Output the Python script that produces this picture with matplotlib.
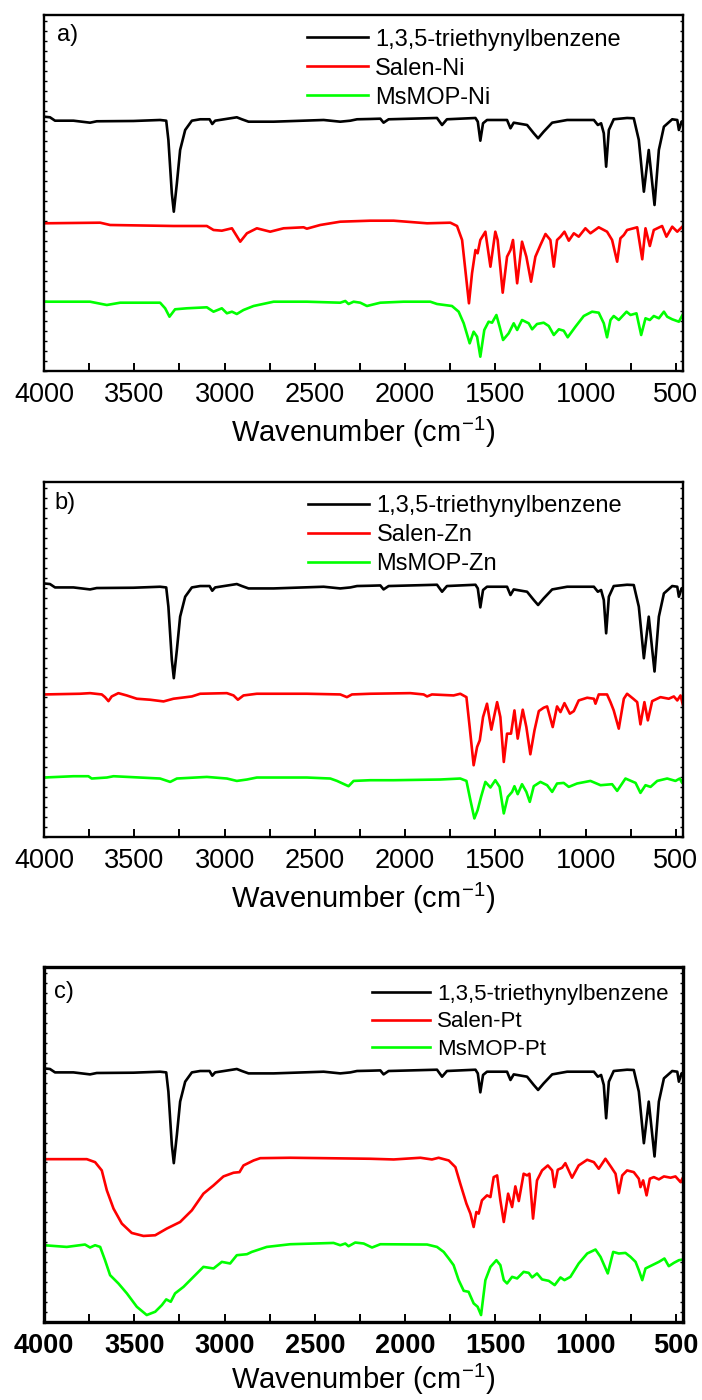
import matplotlib
matplotlib.use("Agg")
import matplotlib.pyplot as plt
import numpy as np
from matplotlib.ticker import MultipleLocator

plt.rcParams['font.family'] = ['Liberation Sans', 'DejaVu Sans']
plt.rcParams['mathtext.fontset'] = 'custom'
plt.rcParams['mathtext.rm'] = 'Liberation Sans'

# IR spectra, (wavenumber cm-1, transmittance a.u.)
teb = np.array([
    (4000, 254.3), (3967, 253.7), (3939, 250.3), (3837, 250.3), (3745, 248.3), (3708, 249.7),
    (3505, 250), (3357, 251), (3323, 250.3), (3311, 231), (3292, 177.7), (3281, 159.3),
    (3264, 187.7), (3246, 221), (3218, 241), (3181, 250.3), (3135, 251.7), (3083, 251.7),
    (3068, 247), (3052, 250.3), (2932, 253.7), (2904, 251.7), (2867, 249.3), (2728, 249.3),
    (2451, 251), (2359, 249.3), (2303, 250.3), (2266, 251.7), (2193, 252), (2137, 252.3),
    (2119, 248.3), (2091, 251.7), (1823, 253), (1795, 246), (1768, 251.7), (1610, 253),
    (1597, 249.3), (1583, 230.3), (1568, 247.7), (1546, 251), (1435, 251), (1416, 242.7),
    (1398, 248.3), (1324, 246), (1287, 237.7), (1263, 232.7), (1232, 239.3), (1185, 248.3),
    (1102, 251), (954, 251), (932, 246), (914, 247.7), (899, 237.7), (886, 204.3), (871, 241),
    (844, 251.7), (770, 253), (733, 252.7), (705, 231), (677, 179.3), (650, 221), (618, 166),
    (594, 221), (566, 244.3), (520, 251.7), (492, 251), (483, 241), (468, 249.3), (460, 250),
])

salen_ni = np.array([
    (4000, 147.7), (3689, 148.3), (3634, 146), (3283, 145), (3098, 145), (3061, 141),
    (3015, 140.3), (2959, 142.7), (2913, 129.3), (2876, 137.7), (2821, 142.7), (2747, 139.3),
    (2673, 142.7), (2562, 143.7), (2544, 142.3), (2470, 146), (2359, 149.3), (2193, 150.3),
    (2063, 150.3), (1878, 147.7), (1749, 148.3), (1712, 145), (1684, 131), (1660, 91),
    (1646, 67.7), (1629, 97.7), (1610, 121), (1598, 117.7), (1583, 131), (1555, 139.3),
    (1527, 104.3), (1500, 139.3), (1487, 131), (1459, 78.3), (1435, 114.3), (1416, 121),
    (1402, 131), (1379, 87.7), (1352, 129.3), (1328, 114.3), (1302, 89.3), (1278, 114.3),
    (1250, 126), (1222, 137), (1195, 131), (1176, 104.3), (1158, 131), (1139, 134.3),
    (1117, 139.3), (1093, 130.3), (1065, 137.7), (1038, 134.3), (1001, 142.7), (973, 137.7),
    (927, 143.7), (881, 139.3), (853, 131), (825, 109.3), (807, 132.7), (788, 136), (770, 141),
    (714, 143.7), (686, 111.7), (668, 142.7), (644, 125), (622, 141), (576, 145), (552, 134.3),
    (520, 144.3), (492, 139.3), (460, 145),
])

msmop_ni = np.array([
    (4000, 69.3), (3745, 69.3), (3652, 66), (3578, 68.3), (3357, 68.3), (3329, 62.7),
    (3305, 54.3), (3274, 61.7), (3209, 62.7), (3098, 63.7), (3061, 59.3), (3015, 62.7),
    (2987, 57.7), (2959, 59.3), (2932, 57), (2895, 61), (2839, 65), (2728, 69.3), (2544, 69.3),
    (2359, 68.3), (2331, 70), (2313, 67), (2285, 69.3), (2248, 68.3), (2211, 65), (2137, 68.3),
    (2008, 69.3), (1860, 69.3), (1823, 67), (1740, 65), (1703, 59.3), (1675, 47.7),
    (1642, 27.7), (1620, 39.3), (1601, 34.3), (1583, 14.3), (1561, 41), (1537, 49.3),
    (1518, 48.3), (1494, 56), (1476, 44.3), (1457, 31), (1426, 37.7), (1398, 47.7), (1379, 41),
    (1352, 51), (1315, 47.7), (1296, 41.7), (1269, 47), (1232, 48.3), (1204, 45), (1176, 36),
    (1148, 41.7), (1121, 40.3), (1099, 33.7), (1056, 44.3), (1010, 55), (964, 59.3),
    (927, 58.3), (899, 47.7), (881, 33.7), (862, 51), (844, 55), (816, 51), (773, 59.3),
    (751, 56), (718, 57.7), (692, 36), (668, 52.7), (644, 51), (622, 55), (594, 52.7),
    (566, 59.3), (548, 54.3), (520, 51.7), (483, 49.3), (460, 57),
])

salen_zn = np.array([
    (4000, 143), (3800, 143.7), (3745, 144.3), (3680, 143), (3662, 140.3), (3643, 136.3),
    (3625, 141), (3588, 144.3), (3542, 142), (3486, 138.7), (3412, 137.7), (3338, 136),
    (3283, 138.7), (3181, 141), (3135, 143.7), (2987, 144.3), (2950, 142), (2926, 137.7),
    (2895, 142), (2821, 143.7), (2544, 143.7), (2359, 143), (2322, 140.3), (2294, 143),
    (2193, 143.7), (1971, 144.3), (1897, 143), (1878, 141), (1851, 143), (1731, 142),
    (1694, 143.7), (1660, 140.3), (1642, 110.3), (1620, 72), (1601, 90.3), (1586, 97),
    (1568, 120.3), (1546, 133.7), (1522, 107.7), (1490, 135.3), (1472, 120.3), (1453, 75.3),
    (1435, 103.7), (1413, 103.7), (1394, 127), (1376, 98.7), (1348, 127.7), (1328, 110.3),
    (1306, 83), (1283, 107), (1259, 126.3), (1232, 129.7), (1213, 131), (1182, 110.3),
    (1158, 131), (1139, 125.3), (1117, 134.3), (1087, 123.7), (1065, 126.3), (1038, 137),
    (991, 139.7), (954, 138.7), (945, 133.7), (927, 143), (881, 143), (862, 135.3), (844, 127),
    (816, 108.7), (788, 138.7), (770, 143.7), (736, 138.7), (714, 135.3), (696, 113),
    (674, 135.3), (655, 117), (631, 136.3), (585, 140.3), (539, 138.7), (511, 141), (492, 137),
    (474, 142), (460, 132),
])

msmop_zn = np.array([
    (4000, 59.7), (3837, 61), (3754, 61), (3736, 58.7), (3652, 59.7), (3615, 61), (3357, 58.7),
    (3301, 55.3), (3264, 58.7), (3098, 60.3), (2987, 58.7), (2932, 56.3), (2876, 57.7),
    (2821, 59.7), (2544, 59.7), (2414, 58.7), (2377, 56.3), (2313, 51), (2285, 56.3),
    (2193, 57), (2063, 57), (1805, 57.7), (1694, 58.7), (1660, 56.3), (1638, 37), (1616, 18.7),
    (1598, 27), (1579, 40.3), (1555, 55.3), (1527, 49.7), (1500, 57), (1476, 50.3),
    (1453, 23.7), (1431, 40.3), (1407, 45.3), (1394, 51), (1376, 43), (1352, 53), (1328, 45.3),
    (1309, 35.3), (1287, 51), (1250, 55.3), (1213, 52), (1185, 45.3), (1158, 53.7),
    (1121, 54.3), (1093, 50.3), (1047, 53.7), (973, 56.3), (917, 52), (853, 53), (825, 46.3),
    (779, 58.7), (723, 54.3), (696, 44.3), (668, 52), (640, 50.3), (603, 56.3), (548, 58.7),
    (502, 56.3), (478, 58.7), (465, 54.3), (460, 57),
])

salen_pt = np.array([
    (4000, 163.3), (3763, 163.3), (3717, 160.3), (3680, 152), (3652, 132), (3615, 113.7),
    (3569, 98.7), (3514, 89.3), (3449, 86.3), (3384, 87), (3320, 93.7), (3246, 100.3),
    (3181, 112), (3117, 128.7), (3061, 137), (3006, 146), (2950, 149.7), (2917, 150.3),
    (2895, 157), (2839, 162), (2802, 164.3), (2636, 164.7), (2451, 164.3), (2193, 163.7),
    (2063, 163), (1915, 164.7), (1851, 163), (1814, 164.7), (1758, 162), (1721, 155.3),
    (1694, 138.7), (1660, 118.7), (1638, 108.7), (1620, 95.3), (1605, 110.3), (1592, 108.7),
    (1574, 122), (1546, 127), (1527, 125.3), (1509, 145.3), (1490, 147), (1472, 122),
    (1453, 100.3), (1429, 128.7), (1407, 115.3), (1389, 136), (1370, 121.3), (1343, 148.7),
    (1324, 147), (1311, 148.7), (1291, 103.7), (1269, 142), (1241, 152), (1209, 157),
    (1185, 152), (1172, 135.3), (1154, 152.7), (1130, 154.7), (1112, 159.3), (1075, 144.7),
    (1038, 157), (991, 162.7), (954, 160.3), (927, 153.7), (890, 163.7), (858, 155.3),
    (834, 148.7), (816, 129.3), (797, 147), (770, 152), (733, 150.3), (705, 143.7),
    (696, 135.3), (681, 142), (662, 127), (644, 143.7), (622, 145.3), (594, 143), (566, 146),
    (529, 144.7), (502, 146), (474, 140.3), (460, 145),
])

msmop_pt = np.array([
    (4000, 77), (3874, 75.3), (3773, 77.7), (3745, 74.7), (3717, 77), (3689, 75.3), (3662, 62),
    (3634, 47), (3588, 38.7), (3541, 28.7), (3486, 15.3), (3431, 7), (3384, 10.3), (3347, 17),
    (3323, 22.7), (3298, 20.3), (3274, 28.7), (3227, 35.3), (3172, 45.3), (3117, 55.3),
    (3061, 53.7), (3015, 60.3), (2969, 58.7), (2932, 67), (2876, 68), (2849, 70.3),
    (2766, 75.3), (2636, 78), (2396, 79.3), (2359, 77), (2331, 78.7), (2313, 76), (2276, 79.7),
    (2229, 78.7), (2183, 74.7), (2137, 78), (1878, 77.7), (1823, 75.3), (1786, 70.3),
    (1758, 63.7), (1731, 57), (1703, 42), (1675, 31.3), (1648, 30.3), (1620, 18.7),
    (1598, 15.3), (1579, 7), (1555, 42), (1527, 55.3), (1494, 62), (1472, 57), (1453, 42),
    (1435, 38.7), (1407, 45.3), (1379, 43.7), (1343, 50.3), (1315, 49.3), (1296, 44.7),
    (1269, 48.7), (1241, 42.7), (1204, 41.3), (1171, 37), (1139, 44.7), (1117, 42),
    (1084, 45.3), (1038, 58.7), (991, 68.7), (945, 72.7), (917, 65.3), (877, 48.7),
    (847, 70.3), (816, 68.7), (779, 69.3), (751, 65.3), (723, 60.3), (705, 52), (686, 42),
    (668, 53.7), (631, 57), (594, 60.3), (563, 63.7), (539, 56), (511, 59.3), (483, 62),
    (460, 62.7),
])

panels = [
    ('a)', 'Ni', salen_ni, msmop_ni),
    ('b)', 'Zn', salen_zn, msmop_zn),
    ('c)', 'Pt', salen_pt, msmop_pt),
]
xticks = [4000, 3500, 3000, 2500, 2000, 1500, 1000, 500]

fig = plt.figure(figsize=(7.02, 14), dpi=100)
rects = [
    [0.0627, 0.735, 0.9103, 0.2543],
    [0.0627, 0.4021, 0.9103, 0.2536],
    [0.0627, 0.0557, 0.9103, 0.2536],
]
leg_pos = [(0.411, 0.962), (0.413, 0.963), (0.514, 0.953)]
leg_size = [17, 17, 16]
lab_pos = [(0.021, 0.944), (0.016, 0.941), (0.016, 0.93)]

for i, (tag, metal, salen, msmop) in enumerate(panels):
    ax = fig.add_axes(rects[i])
    ax.plot(teb[:, 0], teb[:, 1], color='black', lw=1.9, label='1,3,5-triethynylbenzene')
    ax.plot(salen[:, 0], salen[:, 1], color='#ff0000', lw=1.9, label='Salen-' + metal)
    ax.plot(msmop[:, 0], msmop[:, 1], color='#00ff00', lw=1.9, label='MsMOP-' + metal)
    ax.set_xlim(4000, 460)
    ax.set_ylim(0, 356)

    bold = (i == 2)
    ax.set_xticks(xticks)
    ax.set_xticklabels([str(t) for t in xticks], fontsize=19.5,
                       fontweight='bold' if bold else 'normal')
    ax.xaxis.set_minor_locator(MultipleLocator(250))
    ax.yaxis.set_major_locator(MultipleLocator(10))
    ax.set_yticklabels([])
    ax.tick_params(axis='x', which='both', direction='in', length=6, width=1.4,
                   top=False, pad=8)
    ax.tick_params(axis='y', which='both', direction='in', length=2.5, width=1,
                   left=True, right=True)
    for s in ax.spines.values():
        s.set_linewidth(2.4 if bold else 1.7)

    ax.set_xlabel('Wavenumber (cm$^{-1}$)', fontsize=21, labelpad=5 if not bold else 2)
    ax.text(lab_pos[i][0], lab_pos[i][1], tag, transform=ax.transAxes,
            fontsize=17, va='center', ha='left')
    ax.legend(loc='upper left', bbox_to_anchor=leg_pos[i], frameon=False,
              fontsize=leg_size[i], handlelength=2.6, handletextpad=0.3,
              labelspacing=0.3, borderpad=0, borderaxespad=0)

fig.savefig('out.png', dpi=100)
